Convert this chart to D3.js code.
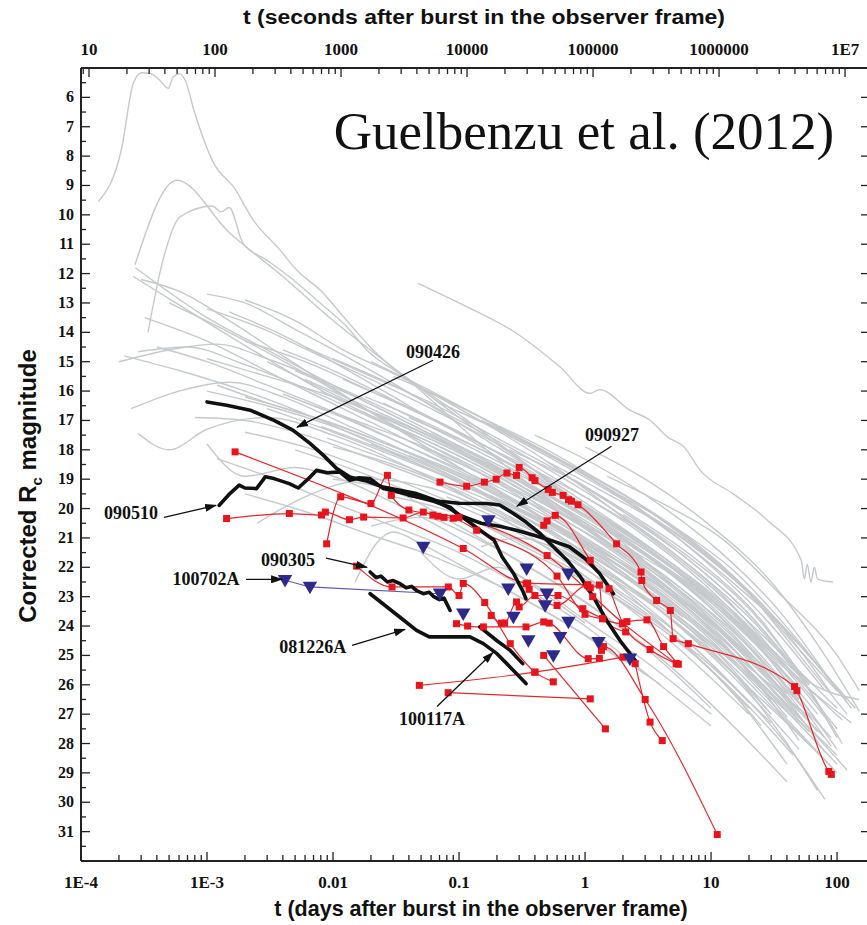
<!DOCTYPE html>
<html>
<head>
<meta charset="utf-8">
<script src="https://cdn.jsdelivr.net/npm/d3@7"></script>
<style>
  body { margin: 0; background: #fff; }
  .tick-lbl { font-family: "Liberation Serif", "Times New Roman", serif; font-weight: bold; fill: #111; }
  .ann { font-family: "Liberation Serif", "Times New Roman", serif; font-weight: bold; font-size: 18px; fill: #111; }
  .ttl { font-family: "Liberation Sans", Arial, sans-serif; font-weight: bold; fill: #111; }
</style>
</head>
<body>
<div id="chart"></div>
<script>
// ---- data: [t (days), corrected Rc magnitude] ----
var GRAY = [
  [[1.37e-4,9.55],[2.1e-4,7.74],[2.6e-4,5.52],[3.03e-4,5.16],[3.52e-4,5.18],[4.2e-4,5.41],[4.93e-4,5.69],[5.4e-4,5.3],[6.1e-4,5.2],[6.7e-4,5.41],[8.0e-4,6.54],[1.15e-3,8.3],[1.62e-3,9.04],[2.33e-3,10.18],[3.8e-3,11.2],[5.15e-3,11.88],[7.9e-3,12.56],[0.0128,13.59],[0.0197,14.5],[0.05,16.0],[0.2,18.3],[1,20.6],[4,22.6],[15,24.8]],
  [[2.68e-4,11.7],[5.75e-4,8.82],[1.5e-3,10.6],[4e-3,12.1],[0.01,13.6],[0.03,15.2],[0.1,16.9],[0.5,19.0],[2,21.0],[10,23.2],[30,25]],
  [[3.4e-4,14.0],[4.5e-4,11.5],[6.1e-4,10.07],[1.1e-3,9.7],[1.3e-3,9.9],[1.5e-3,9.75],[1.93e-3,10.97],[2.98e-3,11.54],[4.8e-3,12.2],[7.9e-3,13.0],[0.0128,13.8],[0.0185,14.6],[0.04,15.6],[0.1,16.8],[0.3,18.3],[1,20.1],[3,21.8],[10,23.8],[40,26.4]],
  [[0.0473,12.33],[0.1,13.0],[0.287,14.04],[0.634,15.18],[1.1,16.08],[1.3,15.95],[2.27,16.65],[3.3,17.0],[4.5,17.56],[6.1,17.9],[8.2,18.7],[15,19.5],[28,20.4],[52,21.76],[55,22.4],[58,21.9],[62,22.5],[66,22.0],[70,22.4],[93,22.5]],
  [[2.7e-4,11.8],[1e-3,13.5],[3e-3,14.6],[0.01,15.8],[0.04,17.1],[0.15,18.4],[0.5,19.8],[2,21.6],[8,23.5],[30,25.6]],
  [[2.6e-4,12.1],[8e-4,13.4],[3e-3,14.9],[0.01,16.2],[0.05,17.7],[0.2,19.0],[1,21.0],[5,23.2],[20,25.4],[60,27.1]],
  [[3.2e-4,13.5],[1e-3,14.3],[4e-3,15.6],[0.015,16.8],[0.06,18.1],[0.3,19.8],[1.5,21.9],[6,23.8],[25,26.0]],
  [[2.2e-4,14.8],[6e-4,15.3],[2e-3,16.0],[8e-3,17.0],[0.03,18.1],[0.15,19.5],[0.7,21.1],[3,22.8],[12,24.9],[50,27.3]],
  [[2.85e-4,14.66],[7e-4,14.5],[2e-3,15.1],[6e-3,15.9],[0.02,16.9],[0.08,18.0],[0.4,19.6],[2,21.5],[10,23.9],[40,26.3]],
  [[2.5e-4,16.6],[6e-4,16.0],[1.5e-3,15.7],[4e-3,16.2],[0.012,17.1],[0.05,18.3],[0.25,19.8],[1.2,21.8],[5,23.8],[20,26.1],[70,28.3]],
  [[2.85e-4,17.45],[5e-4,18.0],[1e-3,17.3],[3e-3,16.9],[0.01,17.5],[0.04,18.6],[0.2,20.2],[1,22.3],[5,24.6],[20,27.0]],
  [[1e-3,12.7],[2e-3,13.0],[5e-3,13.9],[0.015,15.0],[0.05,16.3],[0.2,17.9],[1,19.8],[4,21.6],[15,23.6],[60,26.0]],
  [[1.5e-3,13.3],[4e-3,14.1],[0.012,15.2],[0.04,16.5],[0.15,17.9],[0.6,19.5],[3,21.5],[12,23.4],[50,25.8]],
  [[2e-3,12.9],[5e-3,13.6],[0.012,14.6],[0.03,15.4],[0.1,16.6],[0.5,18.4],[2,20.3],[8,22.3],[30,24.6],[100,26.8]],
  [[1e-3,14.9],[3e-3,15.5],[0.01,16.2],[0.03,17.0],[0.1,18.0],[0.4,19.4],[1.5,21.0],[6,23.0],[25,25.6],[80,27.8]],
  [[1.2e-3,15.8],[3e-3,16.4],[0.01,17.1],[0.03,17.9],[0.12,19.0],[0.5,20.4],[2,22.2],[8,24.4],[30,27.0]],
  [[8e-4,16.9],[2e-3,17.0],[6e-3,17.5],[0.02,18.3],[0.07,19.2],[0.3,20.5],[1.2,22.0],[5,24.3],[20,26.8]],
  [[2e-3,14.3],[6e-3,15.0],[0.02,16.0],[0.06,16.9],[0.2,18.1],[0.8,19.7],[3,21.3],[10,23.0],[40,25.5],[130,27.3]],
  [[4e-3,14.6],[0.01,15.3],[0.03,16.3],[0.1,17.4],[0.3,18.5],[1,19.9],[4,21.7],[15,23.9],[50,26.1]],
  [[6e-3,15.6],[0.02,16.6],[0.07,17.7],[0.25,19.0],[0.8,20.3],[3,22.1],[10,24.0],[40,26.7],[100,28.4]],
  [[0.01,14.9],[0.03,15.8],[0.1,17.0],[0.4,18.4],[1.5,19.9],[5,21.5],[20,23.7],[60,25.9],[150,26.5]],
  [[0.015,16.6],[0.05,17.6],[0.15,18.6],[0.5,19.9],[2,21.5],[7,23.1],[25,25.3],[90,27.8]],
  [[0.02,17.8],[0.06,18.6],[0.2,19.7],[0.6,20.7],[2,22.2],[8,24.1],[30,26.6],[100,29.0]],
  [[0.03,15.5],[0.08,16.3],[0.25,17.4],[0.8,18.6],[3,20.2],[10,21.9],[40,24.2],[120,26.5]],
  [[0.005,18.0],[0.015,18.7],[0.05,19.6],[0.15,20.5],[0.5,21.6],[2,23.1],[8,25.0],[30,27.3]],
  [[0.008,17.2],[0.025,18.0],[0.08,18.9],[0.3,20.1],[1,21.3],[4,22.9],[15,25.0],[60,27.6]],
  [[0.04,16.9],[0.12,17.8],[0.4,18.9],[1.2,20.1],[4,21.6],[15,23.5],[50,25.8],[110,27.2]],
  [[0.06,17.4],[0.2,18.5],[0.6,19.5],[2,20.9],[6,22.3],[20,24.3],[70,27.0]],
  [[0.1,16.7],[0.3,17.6],[1,18.8],[3,20.0],[10,21.7],[30,23.6],[90,26.3]],
  [[1.2e-3,18.3],[3e-3,18.9],[0.01,19.8],[0.03,20.6],[0.1,21.5],[0.3,22.6],[1,24.0],[3,25.6],[10,27.4]],
  [[2e-3,19.5],[6e-3,20.1],[0.02,20.9],[0.06,21.6],[0.2,22.6],[0.7,23.9],[2,25.2]],
  [[0.015,22.5],[0.022,21.2],[0.03,20.8],[0.05,21.2],[0.1,21.9],[0.3,23.0],[1,24.3],[4,26.0]],
  [[0.01,19.0],[0.03,19.4],[0.1,20.6],[0.3,21.8],[1,23.2],[4,25.1],[15,27.4],[40,29.3]],
  [[2.5e-3,20.5],[6e-3,19.6],[0.02,19.0],[0.06,19.3],[0.2,20.2],[0.8,21.5],[3,23.3],[12,25.6],[50,28.6],[80,29.9]],
  [[0.04,18.2],[0.1,18.9],[0.3,19.9],[1,21.1],[3,22.4],[10,24.2],[40,26.9],[100,28.7]],
  [[0.2,17.3],[0.6,18.4],[2,19.7],[6,21.0],[20,22.9],[60,25.4],[120,27.0]],
  [[0.08,19.6],[0.25,20.5],[0.8,21.6],[3,23.0],[10,24.7],[35,27.0],[90,28.8]],
  [[0.3,19.2],[1,20.5],[3,21.7],[10,23.1],[30,24.9],[80,27.1]],
  [[0.5,18.4],[1.5,19.5],[5,20.8],[15,22.4],[50,24.6],[130,26.8]],
  [[0.6,20.6],[2,21.9],[6,23.2],[20,25.1],[60,27.5]],
  [[0.15,20.8],[0.5,21.8],[1.5,22.9],[5,24.4],[15,26.2],[45,28.4]],
  [[1e-3,13.2],[2.5e-3,13.8],[7e-3,14.7],[0.02,15.6],[0.06,16.6],[0.2,17.8],[0.7,19.2],[2.5,20.7],[9,22.6],[35,25.2]],
  [[3e-4,12.2],[6e-4,12.6],[1.5e-3,13.6],[4e-3,14.8],[0.01,15.9],[0.03,17.2],[0.1,18.6],[0.4,20.2],[1.5,21.8],[6,23.7]],
  [[4e-4,14.5],[1e-3,15.0],[3e-3,15.8],[0.01,16.7],[0.04,17.9],[0.15,19.1],[0.6,20.6],[2.5,22.3],[10,24.3],[40,26.9]],
  [[2e-4,15.0],[5e-4,14.6],[1.2e-3,14.4],[3e-3,14.9],[0.01,15.8],[0.04,17.0],[0.2,18.6],[1,20.5],[5,22.6],[20,25.0]],
  [[2e-3,16.2],[6e-3,16.8],[0.02,17.6],[0.07,18.5],[0.25,19.6],[1,21.0],[4,22.7],[15,24.8],[60,27.6]],
  [[3e-3,15.0],[8e-3,15.9],[0.025,16.9],[0.08,17.9],[0.3,19.2],[1,20.4],[4,22.2],[15,24.2],[50,26.5]],
  [[0.05,15.9],[0.15,16.9],[0.5,18.0],[1.5,19.2],[5,20.6],[15,22.3],[50,24.8],[100,26.2]],
  [[0.02,15.0],[0.06,16.0],[0.2,17.2],[0.7,18.5],[2.5,19.9],[8,21.6],[25,23.6],[80,26.2]],
  [[0.01,17.9],[0.03,18.5],[0.1,19.4],[0.35,20.6],[1.2,21.9],[4,23.5],[14,25.6],[50,28.2]],
  [[7e-3,16.5],[0.02,17.2],[0.06,18.0],[0.2,19.1],[0.7,20.4],[2.5,22.0],[9,23.9],[35,26.4],[120,28.9]],
  [[1.5,18.9],[4,19.8],[12,21.0],[35,22.9],[100,25.0],[150,26.2]],
  [[1e-3,17.8],[2e-3,18.9],[5e-3,18.6],[0.01,18.9],[0.03,19.8],[0.1,21.0],[0.3,22.3],[1,23.9]],
  [[0.05,21.5],[0.1,22.4],[0.2,22.0],[0.4,22.6],[1,23.8],[3,25.2],[10,27.0]],
  [[3e-3,16.6],[0.01,17.4],[0.03,18.2],[0.1,19.1],[0.3,20.0],[1,21.2],[3,22.6],[10,24.4],[30,26.5]],
  [[5e-3,15.3],[0.015,16.2],[0.05,17.3],[0.15,18.3],[0.5,19.5],[1.5,20.7],[5,22.3],[15,24.1],[50,26.6]],
  [[8e-3,16.0],[0.025,16.9],[0.08,17.9],[0.25,18.9],[0.8,20.0],[2.5,21.3],[8,23.0],[25,25.2],[70,27.6]],
  [[0.012,15.6],[0.04,16.6],[0.12,17.6],[0.4,18.7],[1.2,19.8],[4,21.2],[12,22.9],[40,25.4],[100,27.5]],
  [[0.018,16.2],[0.05,17.0],[0.15,18.0],[0.5,19.2],[1.5,20.4],[5,21.9],[15,23.6],[50,26.2]],
  [[0.025,16.4],[0.08,17.5],[0.25,18.6],[0.8,19.8],[2.5,21.1],[8,22.7],[25,24.8],[80,27.6]],
  [[0.035,17.1],[0.1,18.0],[0.3,19.0],[1,20.2],[3,21.4],[10,23.1],[30,25.2],[100,28.2]],
  [[0.05,17.9],[0.15,18.8],[0.5,19.9],[1.5,21.0],[5,22.5],[15,24.3],[50,26.9]],
  [[0.07,16.4],[0.2,17.3],[0.6,18.3],[2,19.5],[6,20.9],[20,22.8],[60,25.0],[140,26.8]],
  [[0.12,18.2],[0.35,19.2],[1,20.3],[3,21.6],[10,23.3],[30,25.4],[90,28.1]],
  [[0.15,17.0],[0.5,18.1],[1.5,19.3],[5,20.6],[15,22.1],[45,24.3],[120,26.6]],
  [[0.25,18.0],[0.7,18.9],[2,20.1],[6,21.5],[20,23.4],[60,26.0]],
  [[0.4,17.5],[1.2,18.5],[4,19.9],[12,21.5],[35,23.5],[100,26.2]],
  [[0.8,19.0],[2.5,20.3],[8,21.8],[25,23.8],[70,26.6],[110,28.0]],
  [[1,17.9],[3,19.0],[10,20.6],[30,22.5],[80,25.0],[150,26.9]],
  [[2,20.2],[6,21.6],[20,23.6],[60,26.2],[100,27.8]],
  [[2e-3,17.4],[6e-3,17.9],[0.02,18.7],[0.06,19.5],[0.2,20.5],[0.6,21.5],[2,22.9],[6,24.4],[20,26.6]],
  [[4e-3,16.1],[0.012,16.9],[0.04,17.9],[0.12,18.8],[0.4,19.9],[1.2,21.0],[4,22.6],[12,24.5],[40,27.1]],
  [[6e-3,14.5],[0.02,15.5],[0.06,16.4],[0.2,17.6],[0.6,18.7],[2,20.1],[6,21.6],[20,23.6],[60,26.0]],
  [[9e-3,17.6],[0.03,18.4],[0.1,19.3],[0.3,20.2],[1,21.5],[3,22.8],[10,24.7],[30,27.0]],
  [[0.1,19.2],[0.3,20.0],[1,21.2],[3,22.3],[10,23.9],[30,25.8],[80,28.3]],
  [[0.2,19.8],[0.6,20.9],[2,22.3],[6,23.6],[20,25.6],[50,27.9]],
  [[0.03,19.6],[0.1,20.2],[0.3,21.2],[1,22.4],[3,23.7],[10,25.5],[25,27.4]],
  [[0.5,21.2],[1.5,22.3],[5,23.8],[15,25.6],[40,28.0],[70,29.6]],
  [[1e-3,16.0],[3e-3,16.5],[0.01,17.2],[0.03,18.0],[0.1,19.0],[0.3,20.2],[1,21.6]],
  [[5e-4,13.0],[1.5e-3,14.0],[5e-3,15.2],[0.015,16.4],[0.05,17.7],[0.15,18.8],[0.5,20.2],[1.5,21.6]],
  [[0.15,21.3],[0.3,21.0],[0.6,21.4],[1.5,22.6],[5,24.3],[15,26.3],[40,28.7]],
  [[0.02,20.6],[0.05,20.3],[0.12,20.9],[0.4,22.1],[1.2,23.4],[4,25.2],[10,26.8]]
];

var RED = [
  [[1.67e-3,18.07],[0.108,21.36],[0.35,22.54],[1.05,22.6],[1.15,23.0]],
  [[1.43e-3,20.34],[4.5e-3,20.17],[8.1e-3,20.22],[8.7e-3,20.12],[0.0135,20.38],[0.0175,20.29],[0.036,20.32],[0.052,20.12],[0.062,20.22],[0.068,20.26],[0.076,20.3],[0.09,20.33],[0.138,20.74],[0.6,22.3],[1.0,23.6],[1.38,23.75]],
  [[8.9e-3,21.2],[0.0115,19.6],[0.02,19.83],[0.027,18.87],[0.029,19.55],[0.04,20.05],[0.1,20.3],[0.5,21.6],[2.0,23.9],[5.3,25.28]],
  [[0.0706,19.1],[0.115,19.24],[0.159,19.1],[0.197,19.0],[0.24,18.79],[0.286,18.87],[0.30,18.6],[0.38,18.95],[0.40,19.05],[0.51,19.35],[0.55,19.45],[0.67,19.55],[0.74,19.7],[0.78,19.75],[0.88,19.87],[1.78,21.2],[2.78,22.16],[2.82,22.45],[3.7,23.13],[4.75,23.47],[5.0,24.43],[6.6,24.6],[46,26.06],[48,26.2],[86,28.95],[90,29.05]],
  [[0.47,20.57],[0.5,20.42],[0.58,20.23],[1.1,21.76],[1.55,22.73],[2.0,23.92],[3.28,24.8],[5.3,25.28]],
  [[0.0154,21.96],[0.0294,22.67],[0.0823,22.67],[0.1,22.96],[0.108,22.55],[0.16,23.2],[0.255,24.6],[0.4,25.57],[0.56,25.9]],
  [[0.0955,23.92],[0.117,24.0],[0.156,24.03],[0.34,24.03],[0.47,23.86],[0.52,23.9],[1.06,25.11],[1.3,25.1]],
  [[0.18,23.64],[0.217,23.9],[0.23,23.9],[0.286,23.18],[0.30,23.35],[0.40,22.96],[0.61,22.96],[0.96,23.41],[1.98,23.92],[2.15,23.85],[3.1,23.79],[4.2,24.7],[5.5,25.3]],
  [[0.34,22.56],[0.36,22.75],[0.6,23.3],[1.05,22.6],[1.1,22.7],[1.3,22.6],[1.38,23.75],[2.1,24.2]],
  [[0.0484,26.02],[0.4,25.57],[2.0,25.06]],
  [[0.082,26.27],[1.1,26.48]],
  [[0.47,25.0],[1.45,27.5]],
  [[2.5,25.28],[3.28,27.27],[4.1,27.9]],
  [[1.35,24.83],[1.4,24.7],[3.0,26.5],[11.2,31.1]]
];

// blue: upper limits; first three form the 100702A light curve
var BLUE_LINE = [[4.16e-3,22.44],[6.56e-3,22.67],[0.0706,22.9]];
var BLUE_PTS = [[0.052,21.31],[0.108,23.58],[0.171,20.4],[0.344,22.05],[0.246,22.73],[0.497,22.9],[0.482,23.3],[0.738,22.22],[0.27,23.69],[0.738,23.86],[0.355,24.49],[0.634,24.38],[1.28,24.55],[0.56,25.0],[2.27,25.11]];

var BLACK = {
  "090426": [[1e-3,16.37],[1.43e-3,16.48],[2.2e-3,16.65],[3.4e-3,17.0],[4.8e-3,17.33],[6.6e-3,17.79],[8.4e-3,18.19],[0.0107,18.64],[0.0136,18.93],[0.018,19.05],[0.025,19.27],[0.034,19.38],[0.046,19.49],[0.063,19.7],[0.085,20.0],[0.115,20.4],[0.147,20.74],[0.19,21.08],[0.22,21.65],[0.27,22.2],[0.32,22.8],[0.34,23.07]],
  "090510": [[1.25e-3,19.89],[1.52e-3,19.49],[1.8e-3,19.2],[2.0e-3,19.3],[2.47e-3,19.32],[2.9e-3,18.92],[3.4e-3,18.98],[4.5e-3,19.15],[5.3e-3,19.3],[6.6e-3,18.92],[7.4e-3,18.7],[9.0e-3,18.78],[0.0113,18.75],[0.0136,19.04],[0.016,18.95],[0.0197,18.98],[0.0251,19.32],[0.034,19.45],[0.046,19.6],[0.063,19.75],[0.085,19.95],[0.1,20.23],[0.15,20.5],[0.21,20.6],[0.29,20.75],[0.4,20.92],[0.55,21.1],[0.75,21.3],[1.0,21.7],[1.3,22.2],[1.68,22.9]],
  "090927": [[0.04,19.55],[0.07,19.75],[0.1,19.82],[0.166,19.83],[0.21,19.88],[0.27,20.17],[0.34,20.46],[0.44,20.85],[0.56,21.3],[0.72,21.76],[0.92,22.33],[1.16,23.0],[1.48,23.8],[1.9,24.5],[2.5,25.17]],
  "090305": [[0.0197,22.16],[0.022,22.35],[0.024,22.3],[0.027,22.5],[0.03,22.45],[0.034,22.56],[0.038,22.7],[0.042,22.65],[0.046,22.79],[0.052,22.9],[0.058,22.85],[0.063,23.0],[0.07,23.1],[0.076,23.05],[0.085,23.47]],
  "081226A": [[0.0197,22.9],[0.025,23.25],[0.034,23.7],[0.046,24.15],[0.058,24.37],[0.085,24.37],[0.122,24.37],[0.156,24.6],[0.2,24.94],[0.255,25.4],[0.34,25.96]],
  "100117A": [[0.146,24.03],[0.2,24.5],[0.255,24.83],[0.32,25.28]]
};

// annotations: label, label position [t, mag], arrow from, arrow to
var LABELS = [
  ["090426", [0.0622,14.68], [0.0622,14.95], [5.18e-3,17.23]],
  ["090927", [1.64,17.5], [1.62,17.88], [0.288,19.92]],
  ["090510", [2.49e-4,20.16], [4.56e-4,20.3], [1.18e-3,19.89]],
  ["090305", [4.4e-3,21.76], [8.8e-3,21.69], [0.0186,22.0]],
  ["100702A", [9.8e-4,22.41], [2.04e-3,22.41], [3.94e-3,22.41]],
  ["081226A", [6.9e-3,24.73], [0.01416,24.66], [0.0373,24.11]],
  ["100117A", [0.0611,27.15], [0.0669,26.74], [0.186,24.9]]
];

var DAY_TICKS = [1e-4, 1e-3, 0.01, 0.1, 1, 10, 100];
var DAY_LABELS = ["1E-4", "1E-3", "0.01", "0.1", "1", "10", "100"];
var SEC_TICKS = [10, 100, 1000, 1e4, 1e5, 1e6, 1e7];
var SEC_LABELS = ["10", "100", "1000", "10000", "100000", "1000000", "1E7"];
var MAG_TICKS = d3.range(6, 32);

// ---- layout ----
var W = 867, H = 925;
var x = d3.scaleLog().domain([1e-4, 176]).range([81, 868]);
var xs = d3.scaleLog().domain([1e-4 * 86400, 176 * 86400]).range([81, 868]);
var y = d3.scaleLinear().domain([5, 32]).range([68, 861]);

var svg = d3.select('#chart').append('svg')
  .attr('width', W).attr('height', H);

var defs = svg.append('defs');
defs.append('clipPath').attr('id', 'clip')
  .append('rect').attr('x', 81).attr('y', 68).attr('width', 800).attr('height', 793);
defs.append('marker').attr('id', 'arr')
  .attr('markerUnits', 'userSpaceOnUse')
  .attr('markerWidth', 12).attr('markerHeight', 8)
  .attr('refX', 11).attr('refY', 4).attr('orient', 'auto')
  .append('path').attr('d', 'M0,0 L12,4 L0,8 Z').attr('fill', '#111');

var plot = svg.append('g').attr('clip-path', 'url(#clip)');

var line = d3.line()
  .x(function(d) { return x(d[0]); })
  .y(function(d) { return y(d[1]); });
var smooth = d3.line()
  .x(function(d) { return x(d[0]); })
  .y(function(d) { return y(d[1]); })
  .curve(d3.curveMonotoneX);

// gray comparison sample
plot.selectAll('path.gray').data(GRAY).enter().append('path')
  .attr('class', 'gray')
  .attr('d', smooth)
  .attr('fill', 'none')
  .attr('stroke', '#c6c9cc')
  .attr('stroke-width', 1.4);

// red detections
plot.selectAll('path.red').data(RED).enter().append('path')
  .attr('d', smooth)
  .attr('fill', 'none')
  .attr('stroke', '#e8262b')
  .attr('stroke-width', 1.2);

// blue 100702A line
plot.append('path').datum(BLUE_LINE)
  .attr('d', line)
  .attr('fill', 'none')
  .attr('stroke', '#5a58b0')
  .attr('stroke-width', 1.2);

// black highlighted bursts
Object.keys(BLACK).forEach(function(k) {
  plot.append('path').datum(BLACK[k])
    .attr('d', line)
    .attr('fill', 'none')
    .attr('stroke', '#111')
    .attr('stroke-width', 3.6)
    .attr('stroke-linejoin', 'round')
    .attr('stroke-linecap', 'round');
});

// red squares
var sq = 7;
RED.forEach(function(c) {
  plot.selectAll(null).data(c).enter().append('rect')
    .attr('x', function(d) { return x(d[0]) - sq / 2; })
    .attr('y', function(d) { return y(d[1]) - sq / 2; })
    .attr('width', sq).attr('height', sq)
    .attr('fill', '#e8141c');
});

// blue triangles (upper limits)
var tri = d3.symbol().type(d3.symbolTriangle).size(90);
plot.selectAll(null).data(BLUE_LINE.concat(BLUE_PTS)).enter().append('path')
  .attr('d', tri)
  .attr('transform', function(d) { return 'translate(' + x(d[0]) + ',' + (y(d[1]) - 1) + ') rotate(180)'; })
  .attr('fill', '#2e2a8c');

// ---- axes frame ----
var ax = svg.append('g').attr('stroke', '#222').attr('fill', 'none');
ax.append('line').attr('x1', 81).attr('x2', 867).attr('y1', 861).attr('y2', 861).attr('stroke-width', 2);
ax.append('line').attr('x1', 81).attr('x2', 867).attr('y1', 68).attr('y2', 68).attr('stroke-width', 2);
ax.append('line').attr('x1', 81).attr('x2', 81).attr('y1', 68).attr('y2', 861).attr('stroke-width', 2);

function logTicks(domain) {
  var out = [];
  var lo = Math.floor(Math.log10(domain[0])), hi = Math.ceil(Math.log10(domain[1]));
  for (var e = lo; e <= hi; e++) {
    for (var k = 1; k < 10; k++) {
      var v = k * Math.pow(10, e);
      if (v >= domain[0] && v <= domain[1]) out.push([v, k === 1]);
    }
  }
  return out;
}

// bottom ticks (inward)
logTicks(x.domain()).forEach(function(t) {
  var px = x(t[0]);
  ax.append('line').attr('x1', px).attr('x2', px)
    .attr('y1', 861).attr('y2', 861 - (t[1] ? 9 : 6)).attr('stroke-width', 1.3);
});
// top ticks (inward)
logTicks(xs.domain()).forEach(function(t) {
  var px = xs(t[0]);
  if (px < 82) return;
  ax.append('line').attr('x1', px).attr('x2', px)
    .attr('y1', 68).attr('y2', 68 + (t[1] ? 9 : 6)).attr('stroke-width', 1.3);
});
// left and right ticks
d3.range(5, 32.01, 0.5).forEach(function(m) {
  var major = Math.abs(m - Math.round(m)) < 1e-6;
  var py = y(m);
  ax.append('line').attr('x1', 81).attr('x2', 81 + (major ? 9 : 5))
    .attr('y1', py).attr('y2', py).attr('stroke-width', 1.3);
  if (major) ax.append('line').attr('x1', 867).attr('x2', 861)
    .attr('y1', py).attr('y2', py).attr('stroke-width', 1.3);
});

// tick labels
svg.selectAll(null).data(MAG_TICKS).enter().append('text')
  .attr('class', 'tick-lbl').attr('font-size', 16)
  .attr('x', 74).attr('y', function(d) { return y(d) + 5; })
  .attr('text-anchor', 'end').text(function(d) { return d; });

svg.selectAll(null).data(DAY_TICKS).enter().append('text')
  .attr('class', 'tick-lbl').attr('font-size', 17)
  .attr('x', function(d) { return x(d); }).attr('y', 888)
  .attr('text-anchor', 'middle').text(function(d, i) { return DAY_LABELS[i]; });

svg.selectAll(null).data(SEC_TICKS).enter().append('text')
  .attr('class', 'tick-lbl').attr('font-size', 17)
  .attr('x', function(d) { return xs(d); }).attr('y', 55)
  .attr('text-anchor', 'middle').text(function(d, i) { return SEC_LABELS[i]; });

// axis titles
svg.append('text').attr('class', 'ttl').attr('font-size', 21.5)
  .attr('x', 481).attr('y', 916).attr('text-anchor', 'middle')
  .text('t (days after burst in the observer frame)');

svg.append('text').attr('class', 'ttl').attr('font-size', 20)
  .attr('x', 484).attr('y', 24).attr('text-anchor', 'middle')
  .attr('textLength', 482).attr('lengthAdjust', 'spacingAndGlyphs')
  .text('t (seconds after burst in the observer frame)');

var yt = svg.append('text').attr('class', 'ttl').attr('font-size', 24)
  .attr('transform', 'translate(36,' + 486 + ') rotate(-90)')
  .attr('text-anchor', 'middle');
yt.append('tspan').text('Corrected R');
yt.append('tspan').attr('font-size', 15).attr('dy', 6).text('c');
yt.append('tspan').attr('dy', -6).text(' magnitude');

svg.append('text')
  .attr('x', 584).attr('y', 149).attr('text-anchor', 'middle')
  .attr('font-family', '"Liberation Serif", "Times New Roman", serif')
  .attr('font-size', 53).attr('fill', '#111')
  .text('Guelbenzu et al. (2012)');

// annotations
LABELS.forEach(function(a) {
  svg.append('text').attr('class', 'ann')
    .attr('x', x(a[1][0])).attr('y', y(a[1][1]) + 6)
    .attr('text-anchor', 'middle').text(a[0]);
  svg.append('line')
    .attr('x1', x(a[2][0])).attr('y1', y(a[2][1]))
    .attr('x2', x(a[3][0])).attr('y2', y(a[3][1]))
    .attr('stroke', '#111').attr('stroke-width', 1.3)
    .attr('marker-end', 'url(#arr)');
});
</script>
</body>
</html>
